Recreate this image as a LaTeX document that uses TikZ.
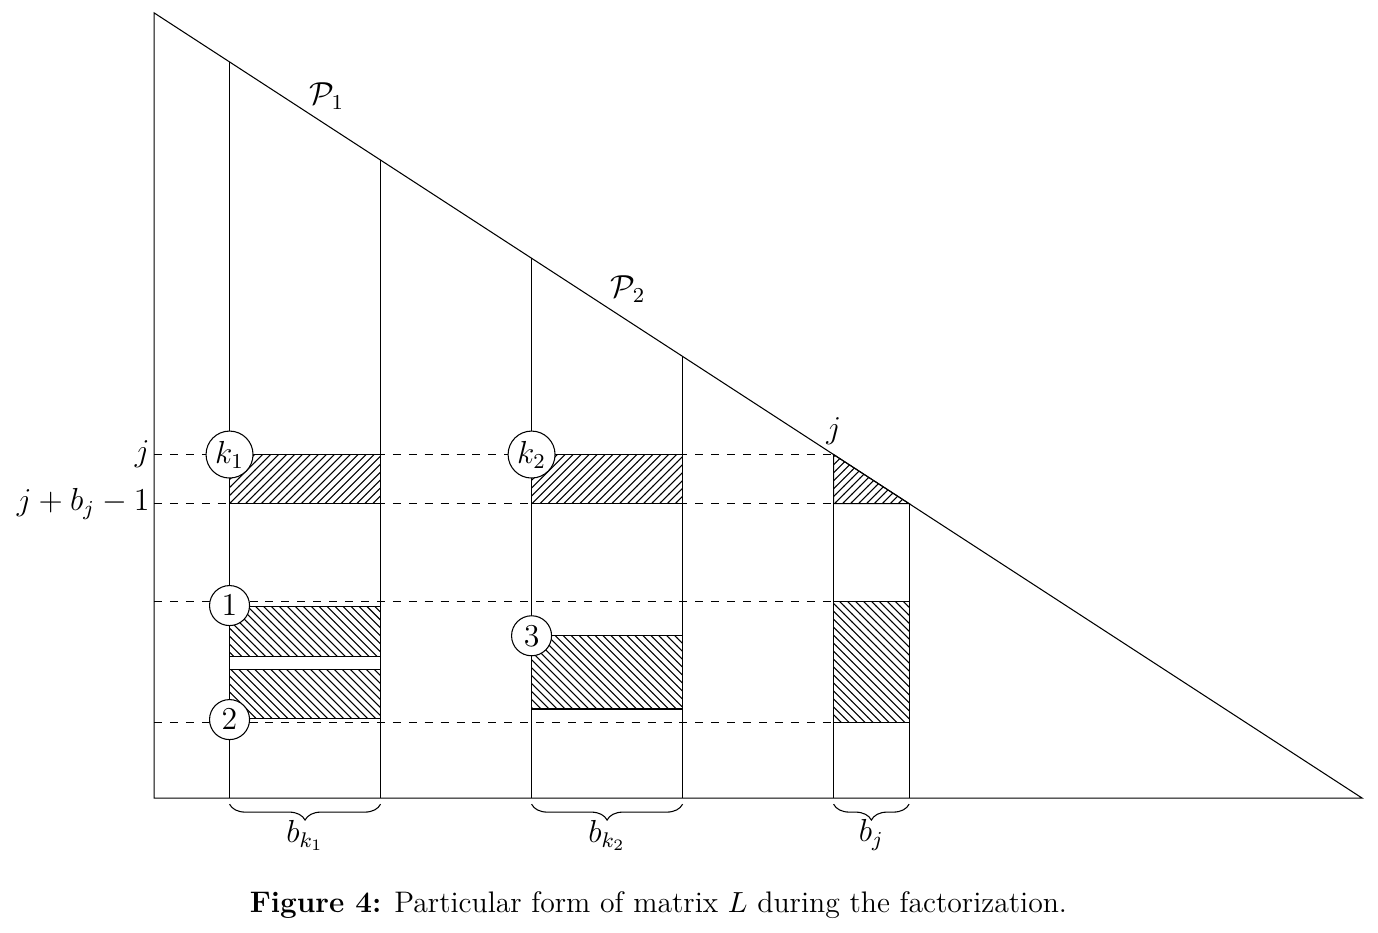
\documentclass[tikz,border=0pt]{standalone}
\usepackage{amsmath}
\usepackage{amssymb}
\usepackage{tikz}
\usetikzlibrary{patterns,decorations.pathreplacing}

\tikzset{
    block/.style={circle, draw, fill=white, inner sep=1pt, minimum size=0.53cm},
    hatchup/.style={draw, pattern=north east lines},
    hatchdown/.style={draw, pattern=north west lines},
    bracelow/.style={decorate, decoration={brace, mirror, amplitude=6pt}},
}

\begin{document}
\begin{tikzpicture}[scale=1.0, font=\large]
    \useasboundingbox (-2.04,-1.775) rectangle (16.21,10.57);

    % Lower triangular matrix L
    \draw (0,0) -- (16,0) -- (0,10.4) -- cycle;
    % Column panels
    \foreach \x in {1,3,5,7,9,10}
        \draw (\x,0) -- (\x,{0.65*(16-\x)});

    % Rows j and j+b_j-1
    \draw[dashed] (0,4.55) -- (9,4.55);
    \draw[dashed] (0,3.9) -- (9,3.9);
    \draw[dashed] (0,2.6) -- (9,2.6);
    \draw[dashed] (0,1) -- (9,1);

    % Blocks to update
    \draw[hatchup] (1,3.9) rectangle (3,4.55);
    \draw[hatchup] (5,3.9) rectangle (7,4.55);
    \draw[hatchup] (9,4.55) -- (10,3.9) -- (9,3.9) -- cycle;
    \draw[hatchdown] (1,1.88) rectangle (3,2.54);
    \draw[hatchdown] (1,1.05) rectangle (3,1.7);
    \draw[hatchdown] (5,1.18) rectangle (7,2.15);
    \draw[hatchdown] (9,1) rectangle (10,2.6);

    % Markers
    \node[block] (k1) at (1,4.55) {$k_1$};
    \node[block] (k2) at (5,4.55) {$k_2$};
    \node[block] (one) at (1,2.55) {$1$};
    \node[block] (two) at (1,1.04) {$2$};
    \node[block] (three) at (5,2.15) {$3$};

    % Row labels
    \node[left, inner sep=1.5pt] (rowj) at (0,4.55) {$j$};
    \node[left, inner sep=1.5pt] (rowjb) at (0,3.9) {$j+b_j-1$};

    % Panel labels
    \node (p1) at (2.29,9.3) {$\mathcal{P}_1$};
    \node (p2) at (6.28,6.74) {$\mathcal{P}_2$};
    \node[above] (colj) at (9,4.55) {$j$};

    % Panel widths
    \draw[bracelow] (1,-0.08) -- (3,-0.08);
    \draw[bracelow] (5,-0.08) -- (7,-0.08);
    \draw[bracelow] (9,-0.08) -- (10,-0.08);
    \node (bk1) at (2,-0.49) {$b_{k_1}$};
    \node (bk2) at (6,-0.49) {$b_{k_2}$};
    \node (bj) at (9.5,-0.49) {$b_j$};

    % Caption
    \node[font=\fontsize{11.2}{13.5}\selectfont] (cap) at (6.68,-1.42) {\textbf{Figure 4:} Particular form of matrix $L$ during the factorization.};

\end{tikzpicture}
\end{document}
